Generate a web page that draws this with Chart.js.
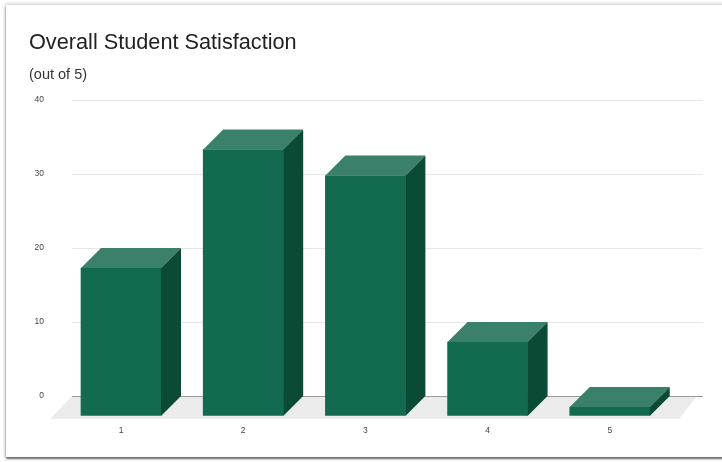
<!DOCTYPE html>
<html><head><meta charset="utf-8">
<script src="https://cdn.jsdelivr.net/npm/chart.js@4"></script>
<style>
html,body{margin:0;padding:0;background:#fff;width:722px;height:462px;overflow:hidden}
#card{position:absolute;left:6px;top:5px;width:730px;height:452px;background:#fff;box-shadow:0 2px 2px #666,0 -2px 3px #ddd,-1px 0 3px #ddd}
canvas{position:absolute;left:0;top:0;filter:blur(0.35px)}
</style></head><body>
<div id="card"></div>
<canvas id="c" width="722" height="462"></canvas>
<script>
const titleText = 'Overall Student Satisfaction';
const subtitleText = '(out of 5)';
const categories = [1, 2, 3, 4, 5];
const satisfaction = [20, 36, 32.5, 10, 1.2];
const yTicks = [0, 10, 20, 30, 40];

const FRONT = '#126b50', TOP = '#3a806a', SIDE = '#0b4a35';
const DEPTH = 20;

const bar3d = {
  id: 'bar3d',
  beforeDraw(chart) {
    const {ctx, chartArea: a} = chart;
    const y0 = chart.scales.y.getPixelForValue(0);
    ctx.save();
    ctx.fillStyle = '#ebebeb';
    ctx.beginPath();
    ctx.moveTo(a.left, y0);
    ctx.lineTo(a.right - 6, y0);
    ctx.lineTo(a.right - 24, y0 + 23);
    ctx.lineTo(a.left - 22, y0 + 23);
    ctx.closePath();
    ctx.fill();
    ctx.restore();
  },
  beforeDatasetDraw(chart) {
    chart.ctx.save();
    chart.ctx.translate(0, DEPTH);
  },
  afterDatasetDraw(chart, args) {
    const ctx = chart.ctx;
    ctx.restore();
    const y0 = chart.scales.y.getPixelForValue(0) + DEPTH;
    args.meta.data.forEach(el => {
      const p = el.getProps(['x', 'y', 'width']);
      const l = p.x - p.width / 2, r = p.x + p.width / 2, t = p.y + DEPTH;
      ctx.fillStyle = TOP;
      ctx.beginPath();
      ctx.moveTo(l, t); ctx.lineTo(l + DEPTH, t - DEPTH); ctx.lineTo(r + DEPTH, t - DEPTH); ctx.lineTo(r, t);
      ctx.closePath(); ctx.fill();
      ctx.fillStyle = SIDE;
      ctx.beginPath();
      ctx.moveTo(r, t); ctx.lineTo(r + DEPTH, t - DEPTH); ctx.lineTo(r + DEPTH, y0 - DEPTH); ctx.lineTo(r, y0);
      ctx.closePath(); ctx.fill();
    });
  }
};

new Chart(document.getElementById('c'), {
  type: 'bar',
  data: {
    datasets: [{
      data: categories.map((c, i) => ({x: c, y: satisfaction[i]})),
      backgroundColor: FRONT,
      barThickness: 80,
      clip: false
    }]
  },
  options: {
    responsive: false,
    animation: false,
    layout: {padding: {left: 29, right: 19, top: 0, bottom: 0}},
    plugins: {
      legend: {display: false},
      tooltip: {enabled: false},
      title: {display: true, text: titleText, align: 'start', color: '#222',
        font: {family: '"Liberation Sans", Arial', size: 21.7, weight: 'normal', lineHeight: 1},
        padding: {top: 32, bottom: 10}},
      subtitle: {display: true, text: subtitleText, align: 'start', color: '#333',
        font: {family: '"Liberation Sans", Arial', size: 14.5, weight: 'normal', lineHeight: 1},
        padding: {top: 4, bottom: 17.8}}
    },
    scales: {
      x: {
        type: 'linear', min: 0.599, max: 5.763, offset: false,
        afterFit(s) { s.height = 66; },
        grid: {display: false},
        border: {display: false},
        ticks: {stepSize: 1, includeBounds: false, padding: 22, color: '#444', maxRotation: 0,
          font: {family: '"Liberation Sans", Arial', size: 8.5}}
      },
      y: {
        min: 0, max: 40,
        afterFit(s) { s.width = 43; },
        afterBuildTicks(s) { s.ticks = yTicks.map(v => ({value: v})); },
        border: {display: false},
        grid: {drawTicks: false, color: c => c.tick.value === 0 ? '#999' : '#e6e6e6'},
        ticks: {padding: 28, color: '#444', font: {family: '"Liberation Sans", Arial', size: 8.5}}
      }
    }
  },
  plugins: [bar3d]
});
</script>
</body></html>
